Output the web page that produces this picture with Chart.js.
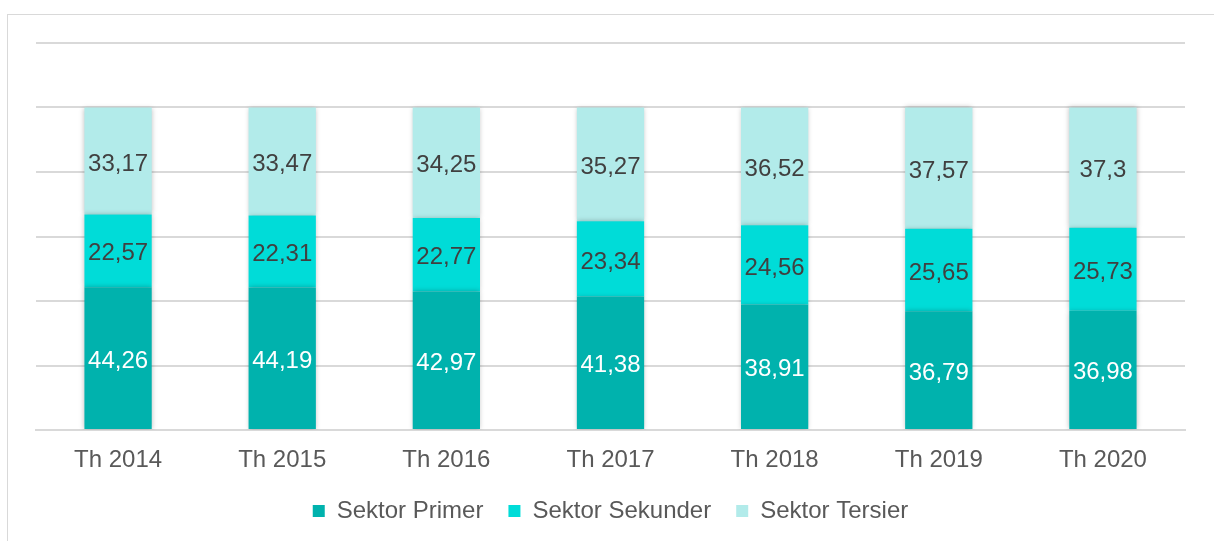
<!DOCTYPE html>
<html>
<head>
<meta charset="utf-8">
<script src="https://cdn.jsdelivr.net/npm/chart.js@4"></script>
<style>
  html, body { margin: 0; padding: 0; background: #fff; }
  #wrap { position: relative; width: 1214px; height: 541px; overflow: hidden; }
  #frame { position: absolute; left: 7px; top: 14px; width: 1400px; height: 700px; border: 1px solid #d9d9d9; }
  canvas { position: absolute; left: 0; top: 0; }
</style>
</head>
<body>
<div id="wrap">
  <div id="frame"></div>
  <canvas id="chart" width="1214" height="541"></canvas>
</div>
<script>
"use strict";

// ---------------- data ----------------
const years = ["Th 2014", "Th 2015", "Th 2016", "Th 2017", "Th 2018", "Th 2019", "Th 2020"];
const primer = [44.26, 44.19, 42.97, 41.38, 38.91, 36.79, 36.98];
const sekunder = [22.57, 22.31, 22.77, 23.34, 24.56, 25.65, 25.73];
const tersier = [33.17, 33.47, 34.25, 35.27, 36.52, 37.57, 37.3];
const primerLabels = ["44,26", "44,19", "42,97", "41,38", "38,91", "36,79", "36,98"];
const sekunderLabels = ["22,57", "22,31", "22,77", "23,34", "24,56", "25,65", "25,73"];
const tersierLabels = ["33,17", "33,47", "34,25", "35,27", "36,52", "37,57", "37,3"];

const fontName = "'Liberation Sans', Arial, sans-serif";

// draws the value text in the middle of each bar piece
const barText = {
  id: "barText",
  afterDatasetsDraw(chart) {
    let ctx = chart.ctx;
    ctx.save();
    ctx.font = "24px " + fontName;
    ctx.textAlign = "center";
    ctx.textBaseline = "middle";
    chart.data.datasets.forEach((ds, i) => {
      let meta = chart.getDatasetMeta(i);
      meta.data.forEach((bar, j) => {
        let p = bar.getProps(["x", "y", "base"], true);
        ctx.fillStyle = ds.textColor;
        ctx.fillText(ds.texts[j], p.x, (p.y + p.base) / 2 + 3);
      });
    });
    ctx.restore();
  }
};

// soft shadow behind the bars
const barShadow = {
  id: "barShadow",
  beforeDatasetsDraw(chart) {
    chart.ctx.save();
    chart.ctx.shadowColor = "rgba(0,0,0,0.25)";
    chart.ctx.shadowBlur = 5;
  },
  afterDatasetsDraw(chart) {
    chart.ctx.restore();
  }
};

let ctx = document.getElementById("chart").getContext("2d");

new Chart(ctx, {
  type: "bar",
  data: {
    labels: years,
    datasets: [
      { label: "Sektor Primer", data: primer, texts: primerLabels, textColor: "#ffffff", backgroundColor: "#00b2ad" },
      { label: "Sektor Sekunder", data: sekunder, texts: sekunderLabels, textColor: "#404040", backgroundColor: "#00dcd8" },
      { label: "Sektor Tersier", data: tersier, texts: tersierLabels, textColor: "#404040", backgroundColor: "#b2ebea" }
    ]
  },
  options: {
    responsive: false,
    animation: false,
    barPercentage: 0.41,
    categoryPercentage: 1,
    layout: { padding: { left: 36, right: 29, top: 43, bottom: 8 } },
    plugins: {
      tooltip: { enabled: false },
      legend: {
        position: "bottom",
        labels: {
          color: "#595959",
          font: { family: fontName, size: 24 },
          boxWidth: 12,
          boxHeight: 12,
          padding: 25
        }
      }
    },
    scales: {
      x: {
        stacked: true,
        grid: { display: false, drawTicks: false },
        border: { display: true, color: "#d9d9d9", width: 2 },
        ticks: { color: "#595959", font: { family: fontName, size: 24 }, padding: 16 },
        afterFit(scale) { scale.height = 44; }
      },
      y: {
        stacked: true,
        min: 0,
        max: 120,
        ticks: { stepSize: 20, display: false },
        grid: { color: "#d9d9d9", lineWidth: 2, drawTicks: false },
        border: { display: false }
      }
    }
  },
  plugins: [barShadow, barText]
});
</script>
</body>
</html>
